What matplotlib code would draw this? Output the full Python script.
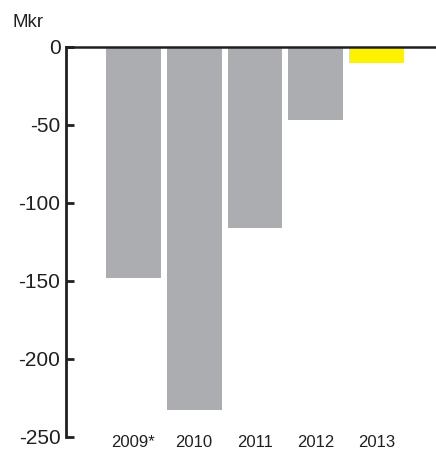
import numpy as np
import matplotlib.pyplot as plt

years = ['2009*', '2010', '2011', '2012', '2013']
values = [-148, -233, -116, -47, -10]
colors = ['#acadb0', '#acadb0', '#acadb0', '#acadb0', '#fff200']
yticks = [0, -50, -100, -150, -200, -250]

plt.rcParams['font.family'] = ['Liberation Sans', 'DejaVu Sans']

fig = plt.figure(figsize=(4.36, 4.5), dpi=100)
ax = fig.add_axes([66 / 436, 13 / 450, 370 / 436, 390 / 450])

x = np.arange(len(years))
ax.bar(x, values, width=0.9, color=colors, zorder=1)
ax.axhline(0, color='#231f20', lw=1.8, clip_on=False, zorder=3)

ax.set_xlim(-1.107, 4.975)
ax.set_ylim(-250, 0)
ax.set_xticks(x)
ax.set_xticklabels(years, fontsize=12, color='#231f20')
ax.set_yticks(yticks)
ax.set_yticklabels([str(v) for v in yticks], fontsize=15, color='#231f20')

for s in ['top', 'right', 'bottom']:
    ax.spines[s].set_visible(False)
ax.spines['left'].set_linewidth(2)
ax.spines['left'].set_color('#231f20')
ax.spines['left'].set_capstyle('projecting')
ax.tick_params(axis='y', direction='in', length=6, width=2, color='#231f20', pad=4)
ax.tick_params(axis='x', length=0, pad=-1.5)

fig.text(12 / 436, 1 - 27 / 450, 'Mkr', fontsize=13.5, color='#231f20',
         ha='left', va='baseline')

fig.savefig('out.png', dpi=100)
